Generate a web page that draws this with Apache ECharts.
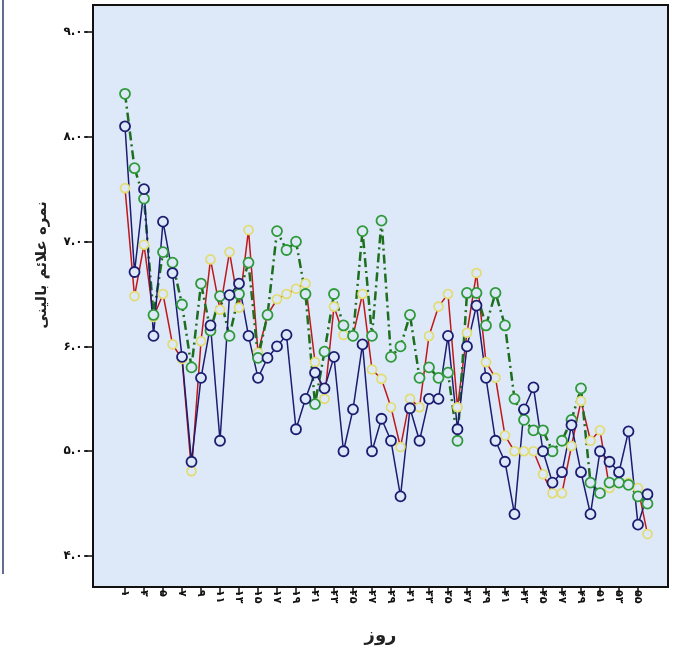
<!DOCTYPE html>
<html>
<head>
<meta charset="utf-8">
<script src="https://cdn.jsdelivr.net/npm/echarts@6/dist/echarts.min.js"></script>
<style>html,body{margin:0;padding:0;background:#fff;}#c{width:682px;height:650px;}</style>
</head>
<body>
<div id="c"></div>
<script>
const days = [1,2,3,4,5,6,7,8,9,10,11,12,13,14,15,16,17,18,19,20,21,22,23,24,25,26,27,28,29,30,31,32,33,34,35,36,37,38,39,40,41,42,43,44,45,46,47,48,49,50,51,52,53,54,55,56];
const blueSeries = [8.10,6.71,7.50,6.10,7.19,6.70,5.90,4.90,5.70,6.20,5.10,6.49,6.60,6.10,5.70,5.89,6.00,6.11,5.21,5.50,5.75,5.60,5.90,5.00,5.40,6.02,5.00,5.31,5.10,4.57,5.41,5.10,5.50,5.50,6.10,5.21,6.00,6.39,5.70,5.10,4.90,4.40,5.40,5.61,5.00,4.70,4.80,5.25,4.80,4.40,5.00,4.90,4.80,5.19,4.30,4.59];
const greenSeries = [8.41,7.70,7.41,6.30,6.90,6.80,6.40,5.80,6.60,6.15,6.48,6.10,6.50,6.80,5.89,6.30,7.10,6.92,7.00,6.50,5.45,5.95,6.50,6.20,6.10,7.10,6.10,7.20,5.90,6.00,6.30,5.70,5.80,5.70,5.75,5.10,6.51,6.51,6.20,6.51,6.20,5.50,5.30,5.20,5.20,5.00,5.10,5.30,5.60,4.70,4.60,4.70,4.70,4.68,4.57,4.50];
const redSeries = [7.51,6.48,6.97,6.28,6.50,6.02,5.88,4.81,6.05,6.83,6.35,6.90,6.37,7.11,5.94,6.30,6.45,6.50,6.55,6.60,5.85,5.50,6.38,6.11,6.10,6.50,5.78,5.69,5.42,5.04,5.50,5.42,6.10,6.38,6.50,5.42,6.13,6.70,5.85,5.70,5.15,5.00,5.00,5.00,4.78,4.60,4.60,5.05,5.48,5.10,5.20,4.65,4.70,4.70,4.65,4.21];
const xTicks = [1,3,5,7,9,11,13,15,17,19,21,23,25,27,29,31,33,35,37,39,41,43,45,47,49,51,53,55];
const xTickLabels = ['۱','۳','۵','۷','۹','۱۱','۱۳','۱۵','۱۷','۱۹','۲۱','۲۳','۲۵','۲۷','۲۹','۳۱','۳۳','۳۵','۳۷','۳۹','۴۱','۴۳','۴۵','۴۷','۴۹','۵۱','۵۳','۵۵'];
const yTicks = [4,5,6,7,8,9];
const yTickLabels = ['۴.۰۰','۵.۰۰','۶.۰۰','۷.۰۰','۸.۰۰','۹.۰۰'];
const xName = 'روز';
const yName = 'نمره علائم بالینی';

const FONT = 'DejaVu Sans';
const BG = '#dde8f8';
const chart = echarts.init(document.getElementById('c'), null, {renderer:'canvas'});
const pairs = arr => days.map((d,i)=>[d, arr[i]]);
chart.setOption({
  animation:false,
  backgroundColor:'#ffffff',
  grid:{left:93,right:14,top:5,bottom:62,show:true,backgroundColor:BG,borderColor:'#111',borderWidth:2},
  xAxis:{
    type:'value', min:-2.37, max:58.16,
    name:xName, nameLocation:'middle', nameGap:40,
    nameTextStyle:{fontFamily:FONT,fontWeight:'bold',fontSize:18,color:'#222'},
    axisLine:{show:true,onZero:false,lineStyle:{color:'#111',width:2}},
    splitLine:{show:false},
    axisTick:{show:true,customValues:xTicks,length:8,lineStyle:{color:'#111',width:1.5}},
    axisLabel:{customValues:xTicks,rotate:-90,margin:3,fontFamily:FONT,fontWeight:'bold',fontSize:11,color:'#111',
      formatter:v=>xTickLabels[xTicks.indexOf(v)]}
  },
  yAxis:{
    type:'value', min:3.705, max:9.257,
    axisLine:{show:true,onZero:false,lineStyle:{color:'#111',width:2}},
    splitLine:{show:false},
    axisTick:{show:true,customValues:yTicks,length:9,lineStyle:{color:'#111',width:1.5}},
    axisLabel:{customValues:yTicks,margin:3,fontFamily:FONT,fontWeight:'bold',fontSize:12,color:'#111',
      formatter:v=>yTickLabels[yTicks.indexOf(v)]}
  },
  graphic:[
    {type:'line',shape:{x1:3,y1:0,x2:3,y2:574},style:{stroke:'#2b3b6b',lineWidth:1.5}},
    {type:'text',x:42,y:265,rotation:Math.PI/2,style:{text:yName,font:'bold 15px "DejaVu Sans"',fill:'#222',align:'center',verticalAlign:'middle'}}
  ],
  series:[
    {name:'red',type:'line',data:pairs(redSeries),symbol:'circle',symbolSize:9,
      lineStyle:{color:'#c01818',width:1.5},itemStyle:{color:BG,borderColor:'#e2dc6a',borderWidth:1.6}},
    {name:'green',type:'line',data:pairs(greenSeries),symbol:'circle',symbolSize:10,
      lineStyle:{color:'#1d6e1d',width:2.5,type:[9,4,2,4]},itemStyle:{color:BG,borderColor:'#2e9a3a',borderWidth:1.8}},
    {name:'blue',type:'line',data:pairs(blueSeries),symbol:'circle',symbolSize:10,
      lineStyle:{color:'#1c1c70',width:1.5},itemStyle:{color:BG,borderColor:'#1c1c70',borderWidth:1.8}}
  ]
});
</script>
</body>
</html>
